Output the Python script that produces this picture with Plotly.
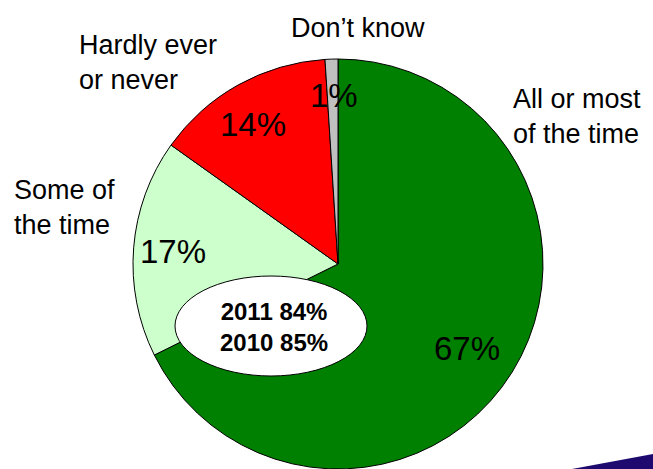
import plotly.graph_objects as go

W, H = 653, 469

categories = ["All or most of the time", "Some of the time", "Hardly ever or never", "Don\u2019t know"]
values = [67, 17, 14, 1]
colors = ["#008000", "#CCFFCC", "#FF0000", "#C0C0C0"]
cat_labels = ["All or most<br>of the time", "Some of<br>the time", "Hardly ever<br>or never", "Don\u2019t know"]
summary_lines = ["2011 84%", "2010 85%"]

def px(x):
    return x / W

def py(y):
    return 1 - y / H

fig = go.Figure()
fig.add_trace(go.Pie(
    labels=categories,
    values=values,
    sort=False,
    direction="clockwise",
    rotation=0,
    marker=dict(colors=colors, line=dict(color="black", width=1)),
    textinfo="none",
    hoverinfo="label+percent",
    showlegend=False,
    domain=dict(x=[px(133), px(543)], y=[0, py(59)]),
))

font = "Arial, Liberation Sans, sans-serif"

# percentage labels inside slices
pct_pos = [(467, 348), (173, 251), (253, 125), (334, 95)]
for v, (x, y) in zip(values, pct_pos):
    fig.add_annotation(x=px(x), y=py(y), xref="paper", yref="paper",
                       text=f"{v}%", showarrow=False,
                       font=dict(family=font, size=33, color="black"),
                       xanchor="center", yanchor="middle")

# category labels outside
cat_pos = [(511, 117, "left"), (12, 207, "left"), (77, 62, "left"), (358, 28, "center")]
for t, (x, y, anc) in zip(cat_labels, cat_pos):
    fig.add_annotation(x=px(x), y=py(y), xref="paper", yref="paper",
                       text=t, showarrow=False, align="left",
                       font=dict(family=font, size=27, color="black"),
                       xanchor=anc, yanchor="middle")

# ellipse with summary
fig.add_shape(type="circle", xref="paper", yref="paper",
              x0=px(175), x1=px(367), y0=py(376), y1=py(276),
              fillcolor="white", line=dict(color="black", width=1))
fig.add_annotation(x=px(274), y=py(327), xref="paper", yref="paper",
                   text="<b>" + "<br>".join(summary_lines) + "</b>", showarrow=False,
                   font=dict(family=font, size=24, color="black"),
                   xanchor="center", yanchor="middle")

# decorative swoosh bottom right
fig.add_shape(type="path", xref="paper", yref="paper",
              path=f"M {px(572)} {py(469)} L {px(653)} {py(454)} L {px(653)} {py(469)} Z",
              fillcolor="#1E0A6E", line=dict(width=0))

fig.update_layout(width=W, height=H, margin=dict(l=0, r=0, t=0, b=0),
                  paper_bgcolor="white", plot_bgcolor="white")

fig.write_html("out.html", config={"displayModeBar": False},
               post_script="document.body.style.margin='0';document.body.style.overflow='hidden';")
